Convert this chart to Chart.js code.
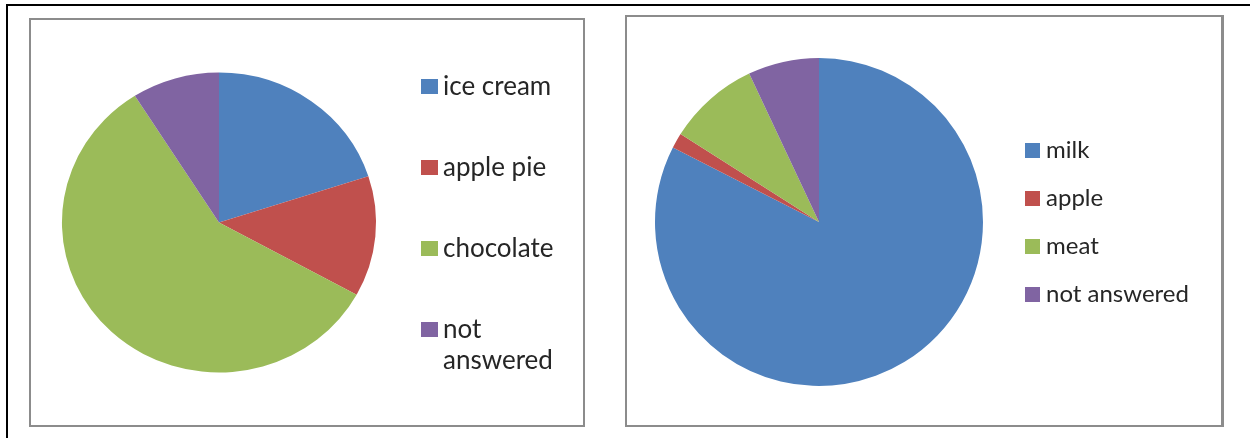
<!DOCTYPE html>
<html>
<head>
<meta charset="utf-8">
<script src="https://cdn.jsdelivr.net/npm/chart.js@4.4.1/dist/chart.umd.min.js"></script>
<style>
  html, body { margin: 0; padding: 0; background: #ffffff; }
  body { width: 1250px; height: 438px; position: relative; overflow: hidden; }
  .frame { position: absolute; left: 6px; top: 4px; width: 1300px; height: 500px; border: 2px solid #000; box-sizing: border-box; }
  .panel { position: absolute; border: 2px solid #8c8c8c; box-sizing: border-box; background: #fff; }
  #p1 { left: 29px; top: 18px; width: 556px; height: 409px; }
  #p2 { left: 625px; top: 15px; width: 599px; height: 412px; border-right-width: 3px; }
  canvas { position: absolute; }
  #c1 { left: 32px; top: 2px; }
  #c2 { left: 628px; top: 18px; }
</style>
</head>
<body>
<div class="frame"></div>
<div class="panel" id="p1"></div>
<div class="panel" id="p2"></div>
<canvas id="c1" width="550" height="440"></canvas>
<canvas id="c2" width="592" height="406"></canvas>
<script>
// Dessert survey
const dessertLabels = ['ice cream', 'apple pie', 'chocolate', ['not', 'answered']];
const dessertValues = [20, 13, 58, 9];
// Food survey
const foodLabels = ['milk', 'apple', 'meat', 'not answered'];
const foodValues = [82.5, 1.5, 9, 7];

const sliceColors = ['#4F81BD', '#C0504D', '#9BBB59', '#8064A2'];
const fontFamily = 'Lato, "Open Sans", sans-serif';

// Small filled square used as a legend marker
function swatch(color, w, h) {
  const c = document.createElement('canvas');
  c.width = w;
  c.height = h;
  const g = c.getContext('2d');
  g.fillStyle = color;
  g.fillRect(0, 0, w, h);
  return c;
}

// Widest legend line, measured the way the legend measures it
function widestLabel(labels, size) {
  const g = document.createElement('canvas').getContext('2d');
  g.font = size + 'px ' + fontFamily;
  return Math.max(...labels.map(l => {
    const t = Array.isArray(l) ? l.reduce((a, b) => (a.length > b.length ? a : b)) : l;
    return g.measureText(t).width;
  }));
}

// Widens the pie horizontally around its centre (the slices only, not the legend)
const stretchPie = {
  id: 'stretchPie',
  beforeDatasetsDraw(chart, args, opts) {
    const arc = chart.getDatasetMeta(0).data[0];
    if (!arc) return;
    const ctx = chart.ctx;
    ctx.save();
    ctx.translate(arc.x, arc.y);
    ctx.scale(opts.sx || 1, 1);
    ctx.translate(-arc.x, -arc.y);
  },
  afterDatasetsDraw(chart) {
    chart.ctx.restore();
  }
};

function pieConfig(canvas, labels, values, s) {
  const markers = sliceColors.map(c => swatch(c, s.boxW, s.boxH));
  const baseLabels = Chart.overrides.doughnut.plugins.legend.labels.generateLabels;
  // legend box width = padding + marker step + half font + text + 10
  const legendW = s.gap + s.markerStep + s.fontSize / 2 + widestLabel(labels, s.fontSize) + 10;
  const padRight = canvas.width - s.legendLeft - legendW;
  return {
    type: 'pie',
    data: {
      labels: labels,
      datasets: [{
        data: values,
        backgroundColor: sliceColors,
        borderWidth: 0,
        radius: s.radius
      }]
    },
    plugins: [stretchPie],
    options: {
      responsive: false,
      animation: false,
      events: [],
      layout: { padding: { left: s.padLeft, right: padRight, top: s.padTop, bottom: s.padBottom } },
      plugins: {
        stretchPie: { sx: s.sx },
        tooltip: { enabled: false },
        legend: {
          position: 'right',
          align: 'center',
          title: s.titleGap ? { display: true, text: '', padding: 0, font: { size: s.titleGap, lineHeight: 1 } } : { display: false },
          labels: {
            usePointStyle: true,
            pointStyleWidth: s.markerStep,
            padding: s.gap,
            color: '#262626',
            font: { family: fontFamily, size: s.fontSize, lineHeight: s.lineHeight },
            generateLabels(chart) {
              const items = baseLabels(chart);
              items.forEach((it, i) => { it.pointStyle = markers[i]; });
              return items;
            }
          }
        }
      }
    }
  };
}

const c1 = document.getElementById('c1');
new Chart(c1, pieConfig(c1, dessertLabels, dessertValues, {
  radius: 150, sx: 1.047, fontSize: 26, lineHeight: 31 / 26, gap: 55, titleGap: 7,
  boxW: 17, boxH: 15, markerStep: 1,
  legendLeft: 342, padLeft: 32, padTop: 1, padBottom: 0
}));
const c2 = document.getElementById('c2');
new Chart(c2, pieConfig(c2, foodLabels, foodValues, {
  radius: 164, sx: 1, fontSize: 24, lineHeight: 1.2, gap: 24, titleGap: 0,
  boxW: 15, boxH: 15, markerStep: 3,
  legendLeft: 379, padLeft: 3, padTop: 22, padBottom: 20
}));
</script>
</body>
</html>
